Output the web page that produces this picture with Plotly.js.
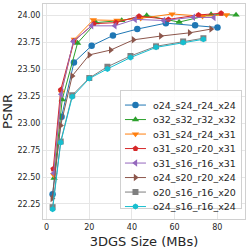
<!DOCTYPE html>
<html><head><meta charset="utf-8">
<script src="https://cdn.plot.ly/plotly-3.0.1.min.js"></script>
<style>html,body{margin:0;padding:0;background:#fff}#chart{width:249px;height:249px}</style>
</head><body><div id="chart"></div>
<script>
const seriesNames = ["o24_s24_r24_x24","o32_s32_r32_x32","o31_s24_r24_x31","o31_s20_r20_x31","o31_s16_r16_x31","o24_s20_r20_x24","o20_s16_r16_x20","o24_s16_r16_x24"];
const sizes_o24_s24 = [2.8, 7.0, 12.8, 21.1, 31.1, 42.5, 55.9, 69.6, 80.1];
const psnr_o24_s24 = [22.34, 23.06, 23.565, 23.72, 23.815, 23.875, 23.93, 23.91, 23.89];
const sizes_o32_s32 = [3.5, 7.3, 14.5, 23.1, 35.2, 46.9, 62.1, 77.1, 88.8];
const psnr_o32_s32 = [22.49, 23.22, 23.745, 23.935, 23.955, 24.0, 23.94, 24.01, 24.006];
const sizes_o31_s24 = [3.3, 6.9, 13.0, 21.9, 33.0, 44.1, 58.8, 73.1, 84.3];
const psnr_o31_s24 = [22.52, 23.29, 23.78, 23.96, 23.955, 23.975, 24.015, 23.995, 24.008];
const sizes_o31_s20 = [3.1, 6.6, 12.8, 22.2, 32.5, 43.3, 57.1, 71.2, 81.8];
const psnr_o31_s20 = [22.575, 23.31, 23.765, 23.925, 23.935, 23.995, 23.965, 24.006, 24.022];
const sizes_o31_s16 = [3.3, 6.8, 12.5, 21.1, 32.0, 41.5, 54.8, 68.8, 78.4];
const psnr_o31_s16 = [22.535, 23.27, 23.76, 23.905, 23.905, 23.965, 23.955, 23.985, 23.982];
const sizes_o24_s20 = [2.6, 6.6, 12.0, 20.0, 30.0, 40.7, 53.5, 67.0, 77.1];
const psnr_o24_s20 = [22.30, 22.98, 23.44, 23.635, 23.68, 23.775, 23.81, 23.84, 23.875];
const sizes_o20_s16 = [2.8, 6.6, 12.0, 20.0, 28.5, 39.3, 51.3, 64.0, 73.5];
const psnr_o20_s16 = [22.22, 22.83, 23.26, 23.42, 23.525, 23.625, 23.715, 23.76, 23.79];
const sizes_o24_s16 = [2.8, 6.6, 12.0, 20.0, 28.5, 39.3, 51.3, 64.0, 73.5];
const psnr_o24_s16 = [22.20, 22.82, 23.245, 23.415, 23.505, 23.61, 23.705, 23.75, 23.78];
const xTicks = [0, 20, 40, 60, 80];
const yTicks = [22.25, 22.50, 22.75, 23.00, 23.25, 23.50, 23.75, 24.00];

const xs = [sizes_o24_s24, sizes_o32_s32, sizes_o31_s24, sizes_o31_s20, sizes_o31_s16, sizes_o24_s20, sizes_o20_s16, sizes_o24_s16];
const ys = [psnr_o24_s24, psnr_o32_s32, psnr_o31_s24, psnr_o31_s20, psnr_o31_s16, psnr_o24_s20, psnr_o20_s16, psnr_o24_s16];
const colors = ["#1f77b4","#2ca02c","#ff7f0e","#d62728","#9467bd","#8c564b","#7f7f7f","#17becf"];
const symbols = ["circle","triangle-up","triangle-down","pentagon","triangle-left","triangle-right","square","hexagon"];
const msizes = [6.5,6.5,6.5,6,6.5,6.5,6,6];

const traces = seriesNames.map((n,i)=>({
  type:"scatter", mode:"lines+markers", name:n, x:xs[i], y:ys[i],
  line:{color:colors[i], width:1},
  marker:{color:colors[i], symbol:symbols[i], size:msizes[i], line:{width:0}}
}));

const gridc = "#e6e6e6";
const layout = {
  width:249, height:249,
  margin:{l:43, r:4, t:4, b:30},
  paper_bgcolor:"#fff", plot_bgcolor:"#fff",
  font:{family:"DejaVu Sans", color:"#262626"},
  showlegend:true,
  legend:{x:0.985, xanchor:"right", y:0.023, yanchor:"bottom",
    bgcolor:"rgba(255,255,255,0.85)", bordercolor:"#d0d0d0", borderwidth:1,
    font:{size:9.5, family:"DejaVu Sans", color:"#262626"}, itemwidth:30},
  xaxis:{range:[-1.7, 93], tickvals:xTicks, ticktext:xTicks.map(String),
    showgrid:true, gridcolor:gridc, gridwidth:1, zeroline:false,
    showline:true, linecolor:"#d0d0d0", linewidth:1, mirror:true, ticks:"",
    tickfont:{size:8, color:"#262626"},
    title:{text:"3DGS Size (MBs)", font:{size:13, color:"#262626"}}},
  yaxis:{range:[22.11, 24.108], tickvals:yTicks, ticktext:yTicks.map(v=>v.toFixed(2)),
    showgrid:true, gridcolor:gridc, gridwidth:1, zeroline:false,
    showline:true, linecolor:"#d0d0d0", linewidth:1, mirror:true, ticks:"",
    tickfont:{size:8, color:"#262626"},
    title:{text:"PSNR", font:{size:13, color:"#262626"}}}
};

Plotly.newPlot("chart", traces, layout, {staticPlot:true, displayModeBar:false}).then(gd=>{
  const items = gd.querySelectorAll(".legend .traces");
  if (items.length < 2) return;
  const parse = el => { const m = /translate\(\s*([-\d.]+)[ ,]+([-\d.]+)\s*\)/.exec(el.getAttribute("transform")||""); return m ? [parseFloat(m[1]), parseFloat(m[2])] : [0,0]; };
  const p0 = parse(items[0]), p1 = parse(items[1]);
  const orig = p1[1]-p0[1];
  const step = 14.5;
  const shrink = (items.length-1)*(orig-step);
  const narrow = 8;
  items.forEach((el,i)=>{
    const p = parse(el);
    el.setAttribute("transform", `translate(${p[0]},${p0[1]+i*step})`);
    const t = el.querySelector("text.legendtext");
    if (t) { const tx = parseFloat(t.getAttribute("x")||"40"); t.setAttribute("x", tx-narrow); t.querySelectorAll("tspan[x]").forEach(s=>s.setAttribute("x", parseFloat(s.getAttribute("x"))-narrow)); }
    el.querySelectorAll(".legendlines path").forEach(pa=>pa.setAttribute("d","M4,0h21"));
    el.querySelectorAll(".legendpoints path").forEach(pa=>{ pa.setAttribute("transform","translate(14.5,0)"); });
  });
  const bg = gd.querySelector(".legend rect.bg");
  if (bg) {
    bg.setAttribute("height", 118);
    const w = parseFloat(bg.getAttribute("width")); bg.setAttribute("width", w - narrow);
  }
  const lg = gd.querySelector("g.legend");
  if (lg) { const p = parse(lg); lg.setAttribute("transform", `translate(${p[0]+narrow},${p[1]+shrink+8})`); }
});
</script></body></html>
